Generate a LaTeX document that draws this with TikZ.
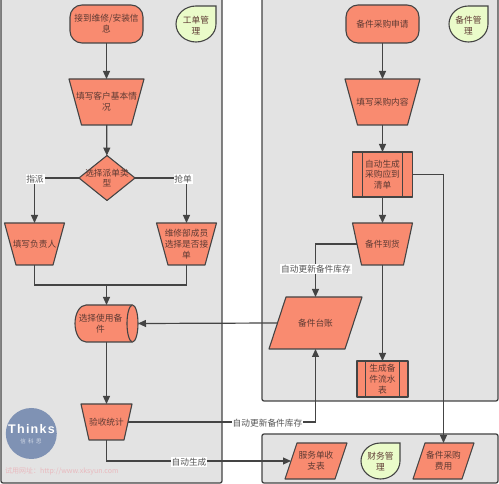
\documentclass[tikz,border=0pt]{standalone}
\usepackage{fontspec}
\setmainfont{Noto Sans CJK SC}
\newfontfamily\thinksfont[LetterSpace=10]{Liberation Sans Bold}
\usetikzlibrary{shapes.geometric,arrows.meta}
\definecolor{panelc}{HTML}{E3E3E3}
\definecolor{linec}{HTML}{444444}
\definecolor{boxc}{HTML}{F98B70}
\definecolor{leafc}{HTML}{EAFBC9}
\definecolor{textc}{HTML}{5E3A33}
\definecolor{labc}{HTML}{555555}
\definecolor{logoc}{HTML}{7F92B4}
\definecolor{logotext}{HTML}{D5DCE8}
\definecolor{urlc}{HTML}{E9B9BE}
\tikzset{
  panel/.style={draw=linec,fill=panelc,line width=1.3pt,rounded corners=2pt},
  outline/.style={draw=linec,fill=boxc,line width=1.1pt,line join=round},
  shapebase/.style={outline,text=textc,align=center,inner sep=0pt,outer sep=0pt,
    font=\fontsize{8.7}{10.8}\selectfont},
  overtext/.style={shapebase,draw=none,fill=none},
  startbox/.style={shapebase,rectangle,rounded corners=12pt,minimum width=73pt,minimum height=38pt},
  procbox/.style n args={3}{shapebase,rectangle,minimum width=#1,minimum height=#2,
    path picture={\draw[linec,line width=1.1pt]
      ([xshift=#3]path picture bounding box.south west) -- ([xshift=#3]path picture bounding box.north west)
      ([xshift=-#3]path picture bounding box.south east) -- ([xshift=-#3]path picture bounding box.north east);}},
  leaf/.style={draw=linec,fill=leafc,line width=1.1pt},
  leaftext/.style={text=textc,align=center,inner sep=0pt,font=\fontsize{8.7}{10.8}\selectfont},
  conn/.style={draw=linec,line width=1.2pt,-{Triangle[length=8pt,width=7pt]}},
  plain/.style={draw=linec,line width=1.2pt},
  lab/.style={fill=white,text=labc,inner sep=0.8pt,font=\fontsize{8.7}{10.5}\selectfont},
}
% name, cx, cy, width, height, inset, text
\newcommand\trapnode[7]{%
  \draw[outline] ({#2-#4/2},{#3-#5/2}) -- ({#2+#4/2},{#3-#5/2}) -- ({#2+#4/2-#6},{#3+#5/2}) -- ({#2-#4/2+#6},{#3+#5/2}) -- cycle;
  \node[overtext,minimum width=#4pt,minimum height=#5pt] (#1) at (#2,#3) {#7};
  \coordinate (#1-w) at ({#2-#4/2+#6/2},#3);
  \coordinate (#1-e) at ({#2+#4/2-#6/2},#3);
}
\newcommand\paranode[7]{%
  \draw[outline] ({#2-#4/2+#6},{#3-#5/2}) -- ({#2+#4/2},{#3-#5/2}) -- ({#2+#4/2-#6},{#3+#5/2}) -- ({#2-#4/2},{#3+#5/2}) -- cycle;
  \node[overtext,minimum width=#4pt,minimum height=#5pt] (#1) at (#2,#3) {#7};
  \coordinate (#1-w) at ({#2-#4/2+#6/2},#3);
  \coordinate (#1-e) at ({#2+#4/2-#6/2},#3);
}
\begin{document}
\begin{tikzpicture}[x=1pt,y=-1pt]
\useasboundingbox (0,0) rectangle (499,484);
\fill[white] (0,0) rectangle (499,484);
% panels
\draw[panel] (1,-3) rectangle (222,483);
\draw[panel] (262,-3) rectangle (498,401);
\draw[panel] (262,434) rectangle (498,483);
% left column
\node[startbox] (a1) at (106.5,24) {接到维修/安装信\\息};
\trapnode{a2}{106.5}{102}{75}{46}{12.5}{填写客户基本情\\况}
\node[shapebase,diamond,minimum width=56pt,minimum height=45pt,
  label={[overtext]center:选择派单类\\型}] (a3) at (107,178) {};
\trapnode{a4}{34.5}{244}{60}{42}{11.5}{填写负责人}
\trapnode{a5}{186.5}{244}{60}{42}{11.5}{维修部成员\\选择是否接\\单}
% cylinder
\draw[outline] (86,305) -- (132.5,305) arc[start angle=90,end angle=-90,x radius=5.5pt,y radius=18.5pt]
  -- (86,342) arc[start angle=270,end angle=90,x radius=11pt,y radius=18.5pt] -- cycle;
\draw[outline] (132.5,305) arc[start angle=90,end angle=270,x radius=5.5pt,y radius=18.5pt];
\node[overtext,minimum width=63pt,minimum height=37pt,
  label={[overtext,xshift=-6pt]center:选择使用备\\件}] (a6) at (106.5,323.5) {};
\trapnode{a7}{106.5}{422}{51}{36}{8}{验收统计}
% right column
\node[startbox] (b1) at (382.5,24) {备件采购申请};
\trapnode{b2}{382.5}{102}{75}{46}{12.5}{填写采购内容}
\node[procbox={60pt}{45pt}{10pt}] (b3) at (382.5,174.5) {自动生成\\采购应到\\清单};
\trapnode{b4}{382.5}{244}{60}{42}{9}{备件到货}
\paranode{b5}{315.5}{323}{93}{52}{17}{备件台账}
\node[procbox={51pt}{36pt}{8.5pt}] (b6) at (382.5,379) {生成备\\件流水\\表};
% bottom row
\paranode{c1}{316}{461}{62}{36}{12}{服务单收\\支表}
\paranode{c2}{443.5}{461}{61}{36}{12}{备件采购\\费用}
% leaves
\draw[leaf] (216,6) -- (216,24) arc[start angle=0,end angle=-270,x radius=20pt,y radius=18pt] -- cycle;
\node[leaftext] (l1) at (196,25.5) {工单管\\理};
\draw[leaf] (488,6) -- (488,24) arc[start angle=0,end angle=-270,x radius=19.5pt,y radius=18pt] -- cycle;
\node[leaftext] (l2) at (468.5,25.5) {备件管\\理};
\draw[leaf] (400,443) -- (400,461) arc[start angle=0,end angle=-270,x radius=19.5pt,y radius=18pt] -- cycle;
\node[leaftext] (l3) at (380.5,461.5) {财务管\\理};
% connectors
\draw[conn] (a1) -- (a2);
\draw[conn] (a2) -- (a3);
\draw[conn] (a3.west) -| (a4.north);
\draw[conn] (a3.east) -| (a5.north);
\coordinate (m1) at (106.5,285);
\draw[plain] (a4.south) |- (m1);
\draw[plain] (a5.south) |- (m1);
\draw[conn] (m1) -- (a6.north);
\draw[conn] (a6.south) -- (a7.north);
\draw[conn] (b1) -- (b2);
\draw[conn] (b2) -- (b3);
\draw[conn] (b3) -- (b4);
\draw[conn] (b4.south) -- (b6.north);
\draw[conn] (b4-w) -| (b5.north);
\draw[conn] (b5-w) -- (a6.east);
\draw[conn] (a7-e) -| (b5.south);
\draw[conn] (a7.south) |- (c1-w);
\draw[conn] (b3.east) -| (c2.north);
% labels
\node[lab] (t1) at (35,179) {指派};
\node[lab] (t2) at (183,179) {抢单};
\node[lab] (t3) at (316,269) {自动更新备件库存};
\node[lab] (t4) at (267.5,423) {自动更新备件库存};
\node[lab] (t5) at (189,462) {自动生成};
% logo
\fill[logoc] (31.3,433.5) circle[radius=25.5pt];
\node[text=white,inner sep=0pt,font=\thinksfont\fontsize{12.5}{14}\selectfont] (t6) at (31.5,429) {Thinks};
\node[text=logotext,inner sep=0pt,font=\fontsize{5.5}{6}\selectfont] (t7) at (31,441.5) {信\ \ 科\ \ 思};
\node[text=urlc,inner sep=0pt,font=\fontsize{7}{8}\selectfont,anchor=west] (t8) at (5,471) {试用网址：http://www.xksyun.com};
\end{tikzpicture}
\end{document}
